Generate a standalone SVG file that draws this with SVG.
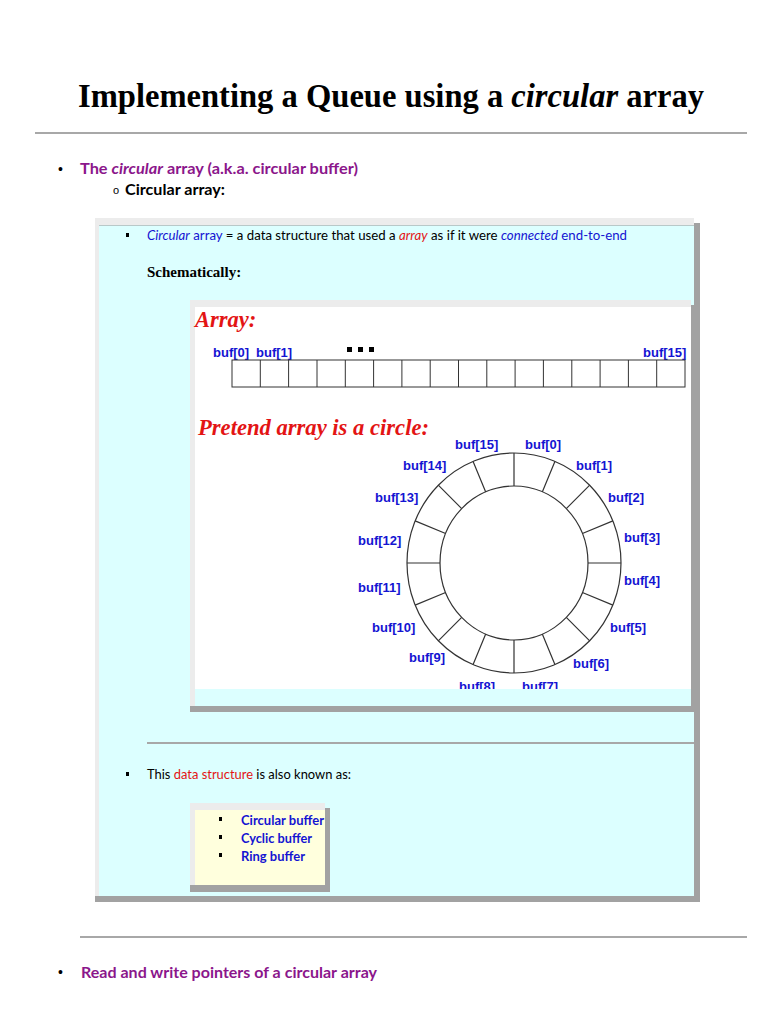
<svg xmlns="http://www.w3.org/2000/svg" width="768" height="1024" viewBox="0 0 768 1024">
<style>
.title{font-family:"Liberation Serif",serif;font-weight:bold;font-size:33px;fill:#000}
.head{font-family:Lato,"Liberation Sans",sans-serif;font-weight:bold;font-size:15px;fill:#8b168b}
.body{font-family:Lato,"Liberation Sans",sans-serif;font-size:12.5px;fill:#000}
.blue{fill:#1414d2}
.red{fill:#e31414}
.lbl{font-family:"Liberation Sans",Arial,sans-serif;font-weight:bold;font-size:13px;fill:#1414d2}
.red22{font-family:"Liberation Serif",serif;font-weight:bold;font-style:italic;font-size:22.5px;fill:#e31414}
.rule{stroke:#a8a8a8;stroke-width:2}
.cell{fill:#fff;stroke:#333;stroke-width:1}
.ring{fill:none;stroke:#333;stroke-width:1.2}
.shadow{fill:#a2a2a2}
.frame{fill:#ececec}
</style>
<defs>
<clipPath id="panelClip"><rect x="195" y="307" width="496" height="382"/></clipPath>
</defs>
<rect width="768" height="1024" fill="#fff"/>

<g id="title">
<text class="title" x="78" y="107" textLength="626" lengthAdjust="spacingAndGlyphs">Implementing a Queue using a <tspan font-style="italic">circular</tspan> array</text>
<line class="rule" x1="35" y1="133" x2="747" y2="133"/>
</g>

<g id="bullet1">
<text x="58" y="174" font-family="Liberation Sans,sans-serif" font-size="14" fill="#000">•</text>
<text class="head" x="80" y="174" textLength="278" lengthAdjust="spacingAndGlyphs">The <tspan font-style="italic">circular</tspan> array (a.k.a. circular buffer)</text>
<text x="113" y="194" font-family="Liberation Sans,sans-serif" font-size="11" fill="#000">o</text>
<text class="head" x="125" y="195" style="fill:#000" textLength="100" lengthAdjust="spacingAndGlyphs">Circular array:</text>
</g>

<g id="outerBox">
<rect class="frame" x="95" y="218" width="599" height="678"/>
<rect x="99" y="225" width="595" height="671" fill="#dcffff"/>
<line x1="99" y1="225.5" x2="694" y2="225.5" stroke="#b8c8c8" stroke-width="1"/>
<rect class="shadow" x="694" y="223" width="6" height="679"/>
<rect class="shadow" x="95" y="896" width="605" height="6"/>
</g>

<g id="definition">
<rect x="126" y="233" width="3" height="4" fill="#000"/>
<text class="body" x="147" y="240" textLength="480" lengthAdjust="spacingAndGlyphs"><tspan class="blue" font-style="italic">Circular</tspan><tspan class="blue"> array</tspan> = a data structure that used a <tspan class="red" font-style="italic">array</tspan> as if it were <tspan class="blue" font-style="italic">connected</tspan><tspan class="blue"> end-to-end</tspan></text>
<text x="147" y="277" font-family="Liberation Serif,serif" font-weight="bold" font-size="15" fill="#000">Schematically:</text>
</g>

<g id="arrayPanel">
<rect class="frame" x="190" y="300" width="501" height="406"/>
<rect x="195" y="307" width="496" height="382" fill="#fff"/>
<rect x="195" y="689" width="496" height="17" fill="#dcffff"/>
<rect class="shadow" x="691" y="305" width="6" height="407"/>
<rect class="shadow" x="190" y="706" width="507" height="6"/>
</g>

<g id="arrayRow">
<text class="red22" x="195" y="327">Array:</text>
<text class="lbl" x="213" y="357">buf[0]</text>
<text class="lbl" x="256" y="357">buf[1]</text>
<text class="lbl" x="643" y="357">buf[15]</text>
<rect x="347" y="347" width="5" height="5" fill="#000"/>
<rect x="358" y="347" width="5" height="5" fill="#000"/>
<rect x="369" y="347" width="5" height="5" fill="#000"/>
<g id="cells">
<rect class="cell" x="232" y="360" width="453" height="27"/>
<path d="M260.3 360V387M288.6 360V387M317 360V387M345.3 360V387M373.6 360V387M401.9 360V387M430.2 360V387M458.5 360V387M486.8 360V387M515.1 360V387M543.4 360V387M571.8 360V387M600.1 360V387M628.4 360V387M656.7 360V387" stroke="#333" stroke-width="1" fill="none"/>
</g>
</g>

<g id="circleDiagram">
<text class="red22" x="198" y="435" textLength="231" lengthAdjust="spacingAndGlyphs">Pretend array is a circle:</text>
<ellipse class="ring" cx="514" cy="563" rx="107" ry="110"/>
<ellipse class="ring" cx="514" cy="563" rx="74" ry="77"/>
<path d="M514 486L514 453M542.3 491.9L554.9 461.4M566.3 508.6L589.7 485.2M582.4 533.5L612.9 520.9M588 563L621 563M582.4 592.5L612.9 605.1M566.3 617.4L589.7 640.8M542.3 634.1L554.9 664.6M514 640L514 673M485.7 634.1L473.1 664.6M461.7 617.4L438.3 640.8M445.6 592.5L415.1 605.1M440 563L407 563M445.6 533.5L415.1 520.9M461.7 508.6L438.3 485.2M485.7 491.9L473.1 461.4" stroke="#333" stroke-width="1.2" fill="none"/>
<g clip-path="url(#panelClip)">
<text class="lbl" x="455" y="449">buf[15]</text>
<text class="lbl" x="525" y="449">buf[0]</text>
<text class="lbl" x="576" y="470">buf[1]</text>
<text class="lbl" x="403" y="470">buf[14]</text>
<text class="lbl" x="608" y="502">buf[2]</text>
<text class="lbl" x="375" y="502">buf[13]</text>
<text class="lbl" x="624" y="542">buf[3]</text>
<text class="lbl" x="358" y="545">buf[12]</text>
<text class="lbl" x="624" y="585">buf[4]</text>
<text class="lbl" x="358" y="592">buf[11]</text>
<text class="lbl" x="610" y="632">buf[5]</text>
<text class="lbl" x="372" y="632">buf[10]</text>
<text class="lbl" x="573" y="668">buf[6]</text>
<text class="lbl" x="409" y="662">buf[9]</text>
<text class="lbl" x="459" y="691">buf[8]</text>
<text class="lbl" x="522" y="691">buf[7]</text>
</g>
</g>

<line class="rule" x1="147" y1="743" x2="694" y2="743"/>

<g id="alsoKnown">
<rect x="126" y="772" width="3" height="4" fill="#000"/>
<text class="body" x="147" y="779" textLength="204" lengthAdjust="spacingAndGlyphs">This <tspan class="red">data structure</tspan> is also known as:</text>
</g>

<g id="namesBox">
<rect class="frame" x="190" y="803" width="135" height="82"/>
<rect x="195" y="810" width="130" height="75" fill="#ffffdd"/>
<rect class="shadow" x="325" y="808" width="5" height="84"/>
<rect class="shadow" x="190" y="885" width="140" height="7"/>
<rect x="219" y="817" width="3" height="4" fill="#000"/>
<rect x="219" y="835" width="3" height="4" fill="#000"/>
<rect x="219" y="853" width="3" height="4" fill="#000"/>
<text class="head blue" x="241" y="825" style="font-size:13px" textLength="83" lengthAdjust="spacingAndGlyphs">Circular buffer</text>
<text class="head blue" x="241" y="843" style="font-size:13px" textLength="71" lengthAdjust="spacingAndGlyphs">Cyclic buffer</text>
<text class="head blue" x="241" y="861" style="font-size:13px" textLength="64" lengthAdjust="spacingAndGlyphs">Ring buffer</text>
</g>

<line class="rule" x1="80" y1="937" x2="747" y2="937"/>

<g id="bullet2">
<text x="58" y="977" font-family="Liberation Sans,sans-serif" font-size="14" fill="#000">•</text>
<text class="head" x="81" y="978" textLength="296" lengthAdjust="spacingAndGlyphs">Read and write pointers of a circular array</text>
</g>
</svg>
